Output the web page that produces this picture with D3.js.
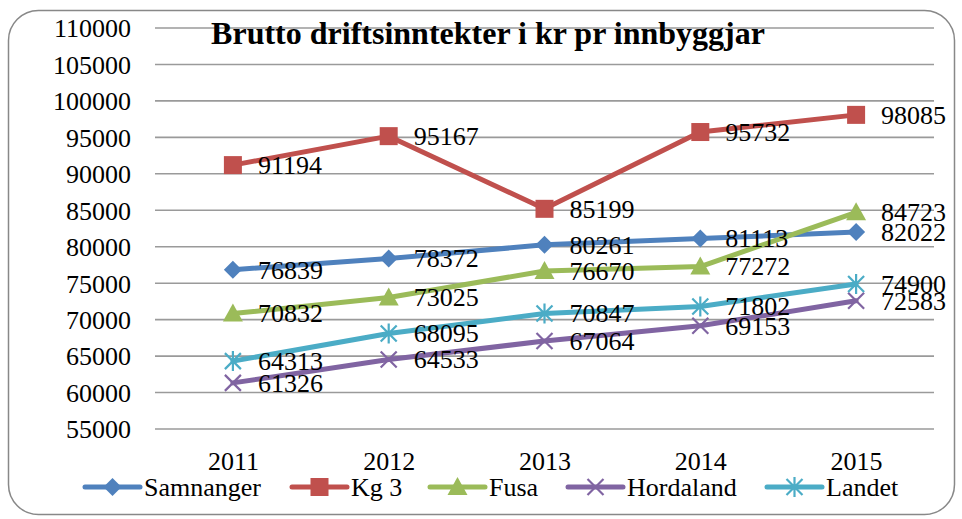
<!DOCTYPE html>
<html>
<head>
<meta charset="utf-8">
<script src="https://cdn.jsdelivr.net/npm/d3@7"></script>
<style>
  body { margin: 0; background: #fff; }
  text { font-family: "Liberation Serif", "Times New Roman", serif; }
</style>
</head>
<body>
<div id="chart"></div>
<script>
const years = ["2011", "2012", "2013", "2014", "2015"];
const samnanger = [76839, 78372, 80261, 81113, 82022];
const kg3 = [91194, 95167, 85199, 95732, 98085];
const fusa = [70832, 73025, 76670, 77272, 84723];
const hordaland = [61326, 64533, 67064, 69153, 72583];
const landet = [64313, 68095, 70847, 71802, 74900];
const yTicks = [55000, 60000, 65000, 70000, 75000, 80000, 85000, 90000, 95000, 100000, 105000, 110000];

const series = [
    {name: "Samnanger", values: samnanger, color: "#4F81BD", marker: "diamond"},
    {name: "Kg 3", values: kg3, color: "#C0504D", marker: "square"},
    {name: "Fusa", values: fusa, color: "#9BBB59", marker: "triangle"},
    {name: "Hordaland", values: hordaland, color: "#8064A2", marker: "x"},
    {name: "Landet", values: landet, color: "#4BACC6", marker: "star"},
];

const dimensions = {
    width: 962,
    height: 519,
    margin: {left: 155, right: 28, top: 28, bottom: 90},
};
const fontSize = "26px";

const wrapper = d3.select("#chart").append("svg")
    .attr("width", dimensions.width)
    .attr("height", dimensions.height);

// outer border
wrapper.append("rect")
    .attr("x", 8.5).attr("y", 10.5)
    .attr("width", 946).attr("height", 504)
    .attr("rx", 30).attr("ry", 30)
    .attr("fill", "#fff")
    .attr("stroke", "#888").attr("stroke-width", 1.5);

const xScaler = d3.scalePoint()
    .domain(years)
    .range([dimensions.margin.left, dimensions.width - dimensions.margin.right])
    .padding(0.5);

const yScaler = d3.scaleLinear()
    .domain([55000, 110000])
    .range([429, 28]);

// gridlines
wrapper.append("g").selectAll("line")
    .data(yTicks)
    .enter().append("line")
    .attr("x1", dimensions.margin.left)
    .attr("x2", dimensions.width - dimensions.margin.right)
    .attr("y1", d => yScaler(d))
    .attr("y2", d => yScaler(d))
    .attr("stroke", "#9a9a9a")
    .attr("stroke-width", 1.6);

// y axis labels
const yAxisGen = d3.axisLeft(yScaler)
    .tickValues(yTicks)
    .tickFormat(d3.format("d"))
    .tickSize(0).tickPadding(0);
const yAxis = wrapper.append("g")
    .attr("transform", "translate(131,0)")
    .call(yAxisGen);
yAxis.select(".domain").remove();
yAxis.selectAll("text")
    .style("font-size", fontSize)
    .style("fill", "#000")
    .attr("dy", "0.34em");

// x axis labels
const xAxisGen = d3.axisBottom(xScaler).tickSize(0).tickPadding(0);
const xAxis = wrapper.append("g")
    .attr("transform", "translate(0,470)")
    .call(xAxisGen);
xAxis.select(".domain").remove();
xAxis.selectAll("text")
    .style("font-size", fontSize)
    .style("fill", "#000")
    .attr("dy", 0);

// title
wrapper.append("text")
    .attr("x", 488)
    .attr("y", 44)
    .attr("text-anchor", "middle")
    .style("font-size", "32px")
    .style("font-weight", "bold")
    .text("Brutto driftsinntekter i kr pr innbyggjar");

function drawMarker(g, type, color, cx, cy) {
    if (type === "diamond") {
        g.append("path")
            .attr("d", `M${cx},${cy - 9}L${cx + 9},${cy}L${cx},${cy + 9}L${cx - 9},${cy}Z`)
            .attr("fill", color);
    } else if (type === "square") {
        g.append("rect")
            .attr("x", cx - 9).attr("y", cy - 9)
            .attr("width", 18).attr("height", 18)
            .attr("fill", color);
    } else if (type === "triangle") {
        g.append("path")
            .attr("d", `M${cx},${cy - 10}L${cx + 10},${cy + 8}L${cx - 10},${cy + 8}Z`)
            .attr("fill", color);
    } else if (type === "x") {
        g.append("path")
            .attr("d", `M${cx - 8},${cy - 8}L${cx + 8},${cy + 8}M${cx - 8},${cy + 8}L${cx + 8},${cy - 8}`)
            .attr("stroke", color).attr("stroke-width", 2.2).attr("fill", "none");
    } else if (type === "star") {
        g.append("path")
            .attr("d", `M${cx - 8},${cy - 8}L${cx + 8},${cy + 8}M${cx - 8},${cy + 8}L${cx + 8},${cy - 8}M${cx},${cy - 10}L${cx},${cy + 10}`)
            .attr("stroke", color).attr("stroke-width", 2.2).attr("fill", "none");
    }
}

const lineGen = d3.line()
    .x((d, i) => xScaler(years[i]))
    .y(d => yScaler(d));

const lineGroup = wrapper.append("g");
series.forEach(s => {
    const g = lineGroup.append("g");
    g.append("path")
        .datum(s.values)
        .attr("d", lineGen)
        .attr("fill", "none")
        .attr("stroke", s.color)
        .attr("stroke-width", 5)
        .attr("stroke-linejoin", "round")
        .attr("stroke-linecap", "round");
    s.values.forEach((v, i) => drawMarker(g, s.marker, s.color, xScaler(years[i]), yScaler(v)));
});

// data labels
const labelGroup = wrapper.append("g");
series.forEach(s => {
    s.values.forEach((v, i) => {
        labelGroup.append("text")
            .attr("x", xScaler(years[i]) + 25)
            .attr("y", yScaler(v))
            .attr("dy", "0.34em")
            .style("font-size", fontSize)
            .style("fill", "#000")
            .text(v);
    });
});

// legend
const legendX = [85, 292, 430, 568, 767];
const legend = wrapper.append("g");
series.forEach((s, i) => {
    const lx = legendX[i];
    const ly = 487;
    const g = legend.append("g");
    g.append("line")
        .attr("x1", lx).attr("x2", lx + 55)
        .attr("y1", ly).attr("y2", ly)
        .attr("stroke", s.color).attr("stroke-width", 5)
        .attr("stroke-linecap", "round");
    drawMarker(g, s.marker, s.color, lx + 27.5, ly);
    g.append("text")
        .attr("x", lx + 59)
        .attr("y", ly + 9)
        .style("font-size", fontSize)
        .style("fill", "#000")
        .text(s.name);
});
</script>
</body>
</html>
